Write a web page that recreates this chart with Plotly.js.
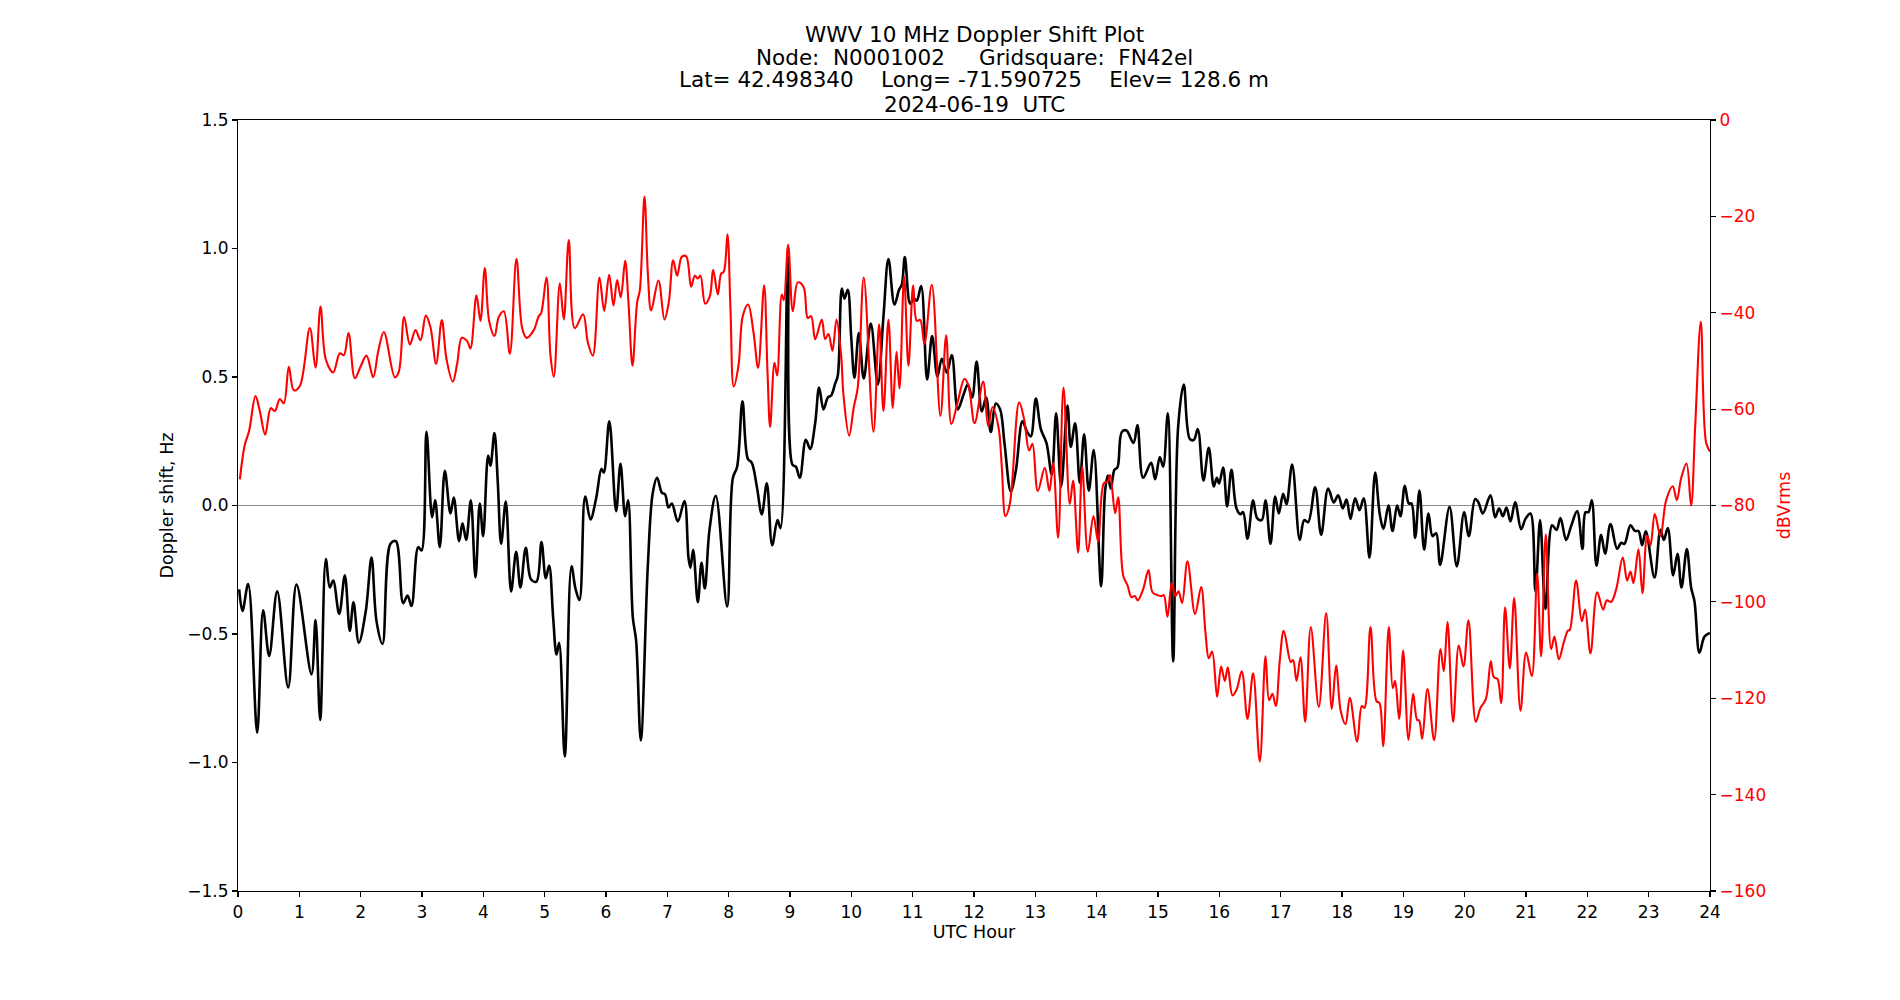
<!DOCTYPE html>
<html>
<head>
<meta charset="utf-8">
<script src="https://cdn.plot.ly/plotly-3.0.1.min.js"></script>
<style>
  html, body { margin: 0; padding: 0; background: #ffffff; }
  #chart { width: 1900px; height: 1000px; }
</style>
</head>
<body>
<div id="chart"></div>
<script>
// ---------- Chart text ----------
const titleLines = [
  "WWV 10 MHz Doppler Shift Plot",
  "Node:\u00A0\u00A0N0001002\u00A0\u00A0\u00A0\u00A0\u00A0Gridsquare:\u00A0\u00A0FN42el",
  "Lat=\u00A042.498340\u00A0\u00A0\u00A0\u00A0Long=\u00A0-71.590725\u00A0\u00A0\u00A0\u00A0Elev=\u00A0128.6\u00A0m",
  "2024-06-19\u00A0\u00A0UTC"
];
const xLabel = "UTC Hour";
const yLabel = "Doppler shift, Hz";
const y2Label = "dBVrms";

// ---------- Tick values ----------
const xTicks = [0,1,2,3,4,5,6,7,8,9,10,11,12,13,14,15,16,17,18,19,20,21,22,23,24];
const yTicks = [-1.5,-1.0,-0.5,0.0,0.5,1.0,1.5];
const y2Ticks = [-160,-140,-120,-100,-80,-60,-40,-20,0];

// ---------- Doppler shift (Hz) series ----------
const dopplerHour = [
0.019,0.073,0.166,0.3125,0.41,0.508,0.639,0.818,0.954,1.198,1.264,1.34,1.432,1.497,1.552,1.65,1.742,1.823,1.883,1.97,
2.084,2.177,2.258,2.356,2.486,2.573,2.693,2.764,2.829,2.938,2.992,3.073,3.165,3.214,3.29,3.372,3.464,3.518,3.605,3.66,
3.72,3.796,3.872,3.942,3.997,4.078,4.116,4.181,4.236,4.29,4.366,4.453,4.535,4.605,4.692,4.779,4.866,4.948,5.018,5.073,
5.138,5.193,5.236,5.328,5.437,5.502,5.567,5.66,5.747,5.839,5.926,5.964,6.054,6.165,6.236,6.312,6.361,6.437,6.491,6.567,
6.682,6.763,6.834,6.91,6.964,7.018,7.073,7.171,7.279,7.345,7.377,7.421,7.497,7.557,7.611,7.687,7.79,7.975,8.067,8.138,
8.225,8.312,8.377,8.459,8.54,8.622,8.709,8.796,8.845,8.967,9.04,9.095,9.16,9.258,9.328,9.41,9.475,9.546,9.616,9.671,
9.736,9.779,9.845,9.888,9.942,9.997,10.051,10.122,10.203,10.317,10.432,10.524,10.605,10.703,10.779,10.823,10.872,10.959,11.018,11.067,
11.138,11.236,11.317,11.404,11.475,11.556,11.638,11.736,11.828,11.899,11.97,12.043,12.127,12.198,12.274,12.355,12.426,12.497,12.6,12.682,
12.79,12.861,12.926,13.008,13.09,13.182,13.268,13.339,13.421,13.524,13.578,13.649,13.725,13.796,13.872,13.953,14.073,14.138,14.182,14.23,
14.29,14.339,14.41,14.486,14.6,14.665,14.757,14.888,14.953,15.03,15.084,15.16,15.247,15.328,15.42,15.518,15.584,15.649,15.741,15.828,
15.91,15.959,15.997,16.062,16.127,16.198,16.279,16.345,16.388,16.459,16.551,16.616,16.692,16.753,16.834,16.91,16.97,17.04,17.095,17.187,
17.312,17.383,17.448,17.562,17.66,17.774,17.866,17.937,18.013,18.073,18.138,18.214,18.285,18.355,18.448,18.54,18.616,18.676,18.758,18.823,
18.899,18.953,19.024,19.089,19.133,19.193,19.263,19.339,19.41,19.475,19.535,19.6,19.753,19.872,19.991,20.068,20.171,20.225,20.296,20.421,
20.497,20.562,20.622,20.682,20.747,20.823,20.921,20.991,21.073,21.154,21.23,21.317,21.426,21.497,21.562,21.654,21.736,21.834,21.921,21.97,
22.018,22.073,22.149,22.225,22.29,22.377,22.486,22.551,22.605,22.703,22.774,22.834,22.893,22.953,23.095,23.192,23.247,23.312,23.399,23.47,
23.535,23.622,23.692,23.747,23.828,23.909,23.997
];
const dopplerHz = [
-0.326,-0.41,-0.306,-0.884,-0.408,-0.585,-0.334,-0.708,-0.308,-0.657,-0.446,-0.834,-0.208,-0.319,-0.292,-0.422,-0.272,-0.488,-0.377,-0.534,
-0.41,-0.203,-0.45,-0.539,-0.149,-0.139,-0.38,-0.35,-0.391,-0.162,-0.175,0.287,-0.046,0.02,-0.162,0.135,-0.031,0.031,-0.139,-0.069,
-0.134,0.02,-0.28,0.008,-0.119,0.194,0.155,0.282,0.089,-0.149,0.015,-0.334,-0.18,-0.319,-0.165,-0.288,-0.296,-0.142,-0.283,-0.234,
-0.434,-0.58,-0.534,-0.976,-0.237,-0.323,-0.368,0.035,-0.054,0.028,0.143,0.128,0.328,-0.022,0.162,-0.042,0.02,-0.434,-0.526,-0.914,
-0.234,0.05,0.108,0.05,0.043,-0.008,0.008,-0.062,0.017,-0.203,-0.242,-0.172,-0.376,-0.223,-0.323,-0.095,0.038,-0.393,0.105,0.151,
0.405,0.182,0.166,0.074,-0.034,0.086,-0.154,-0.057,-0.088,0.967,0.159,0.151,0.108,0.256,0.22,0.32,0.459,0.374,0.42,0.428,
0.474,0.505,0.844,0.805,0.839,0.659,0.497,0.671,0.494,0.708,0.471,0.736,0.959,0.782,0.84,0.859,0.967,0.785,0.805,0.797,
0.854,0.49,0.659,0.502,0.571,0.517,0.585,0.374,0.431,0.471,0.42,0.56,0.366,0.42,0.286,0.397,0.374,0.243,0.055,0.135,
0.328,0.289,0.269,0.416,0.297,0.243,0.12,0.359,0.074,0.389,0.228,0.32,0.089,0.277,0.058,0.216,-0.314,0.058,0.117,0.066,
0.139,0.148,0.286,0.292,0.243,0.313,0.108,0.166,0.102,0.189,0.151,0.359,-0.607,0.305,0.471,0.259,0.255,0.297,0.097,0.225,
0.074,0.108,0.086,0.148,-0.003,0.139,-0.011,-0.034,-0.026,-0.129,0.02,-0.049,-0.057,0.02,-0.149,0.035,-0.031,0.046,0.005,0.159,
-0.134,-0.057,-0.065,0.071,-0.114,0.066,0.012,0.04,-0.011,0.023,-0.052,0.028,-0.018,0.028,-0.203,0.128,-0.034,-0.091,0.0,-0.099,
0.0,-0.042,0.077,0.008,0.008,-0.126,0.058,-0.172,-0.031,-0.119,-0.108,-0.231,-0.006,-0.237,-0.026,-0.119,0.025,0.012,-0.031,0.04,
-0.046,-0.011,-0.042,-0.008,-0.062,0.012,-0.092,-0.052,-0.031,-0.334,-0.057,-0.403,-0.077,-0.095,-0.049,-0.134,-0.08,-0.022,-0.169,-0.026,
-0.026,0.02,-0.234,-0.114,-0.188,-0.072,-0.169,-0.145,-0.149,-0.077,-0.099,-0.099,-0.154,-0.1,-0.28,-0.095,-0.134,-0.088,-0.272,-0.188,
-0.319,-0.169,-0.319,-0.373,-0.573,-0.511,-0.496
];

// ---------- Signal level (dBVrms) series ----------
const levelHour = [
0.03,0.111,0.182,0.285,0.356,0.443,0.535,0.601,0.682,0.747,0.829,0.91,1.008,1.171,1.264,1.345,1.432,1.552,1.66,1.726,
1.802,1.905,1.997,2.095,2.204,2.285,2.378,2.557,2.622,2.709,2.802,2.894,2.976,3.062,3.138,3.23,3.323,3.399,3.502,3.573,
3.649,3.736,3.79,3.888,3.953,4.024,4.095,4.182,4.252,4.334,4.432,4.54,4.633,4.703,4.823,4.904,4.942,5.03,5.095,5.149,
5.247,5.312,5.393,5.491,5.627,5.703,5.785,5.893,5.97,6.051,6.122,6.182,6.241,6.312,6.366,6.432,6.508,6.551,6.627,6.682,
6.736,6.855,6.953,7.024,7.095,7.16,7.236,7.307,7.388,7.448,7.497,7.54,7.616,7.692,7.747,7.823,7.877,7.92,7.98,8.029,
8.083,8.16,8.23,8.317,8.404,8.48,8.578,8.633,8.676,8.747,8.79,8.866,8.899,8.97,9.046,9.127,9.22,9.29,9.345,9.41,
9.518,9.573,9.627,9.692,9.758,9.834,9.872,9.964,10.04,10.105,10.203,10.361,10.453,10.524,10.605,10.676,10.736,10.785,10.861,10.931,
11.008,11.067,11.122,11.192,11.312,11.453,11.546,11.632,11.736,11.845,11.91,12.01,12.149,12.23,12.301,12.399,12.453,12.513,12.584,12.736,
12.817,12.899,12.953,13.04,13.154,13.23,13.29,13.372,13.459,13.562,13.616,13.698,13.764,13.856,13.948,14.024,14.117,14.182,14.22,14.301,
14.351,14.432,14.503,14.567,14.622,14.671,14.757,14.845,14.91,14.991,15.057,15.095,15.154,15.225,15.285,15.334,15.393,15.48,15.605,15.703,
15.774,15.828,15.883,15.964,16.029,16.089,16.138,16.214,16.279,16.366,16.459,16.551,16.66,16.753,16.812,16.866,16.921,16.986,17.051,17.165,
17.203,17.258,17.323,17.399,17.491,17.622,17.742,17.834,17.904,17.98,18.057,18.127,18.247,18.323,18.366,18.464,18.562,18.611,18.671,18.763,
18.828,18.866,18.932,18.997,19.084,19.16,19.225,19.258,19.307,19.394,19.502,19.605,19.66,19.72,19.812,19.904,19.98,20.062,20.182,20.258,
20.345,20.426,20.475,20.535,20.595,20.659,20.736,20.807,20.91,21.002,21.095,21.181,21.247,21.323,21.41,21.464,21.535,21.616,21.682,21.714,
21.817,21.91,21.964,22.051,22.16,22.258,22.317,22.388,22.47,22.578,22.649,22.703,22.752,22.834,22.899,22.975,23.029,23.1,23.192,23.285,
23.393,23.459,23.529,23.617,23.692,23.758,23.85,23.937,24.0
];
const levelDb = [
-74.6,-67.4,-64.5,-57.3,-60.4,-65.3,-59.8,-60.4,-57.9,-58.8,-51.2,-56.1,-55.2,-43.2,-51.4,-38.7,-49.7,-52.4,-48.4,-48.8,
-44.2,-53.6,-51.2,-48.9,-53.4,-48.1,-44.0,-53.4,-52.2,-40.9,-46.6,-43.6,-45.7,-40.6,-43.0,-50.6,-41.5,-49.6,-54.3,-50.6,
-45.2,-45.9,-47.4,-36.4,-41.7,-30.7,-41.7,-44.8,-40.9,-39.7,-48.5,-28.8,-43.2,-45.2,-43.6,-40.7,-40.1,-32.7,-48.9,-53.3,
-33.9,-41.4,-24.9,-43.2,-40.3,-46.1,-48.9,-32.7,-39.6,-32.1,-38.5,-33.2,-36.8,-29.2,-37.8,-51.0,-37.8,-35.4,-15.9,-31.7,
-39.5,-33.3,-41.4,-37.8,-29.1,-32.3,-28.4,-28.3,-34.6,-32.3,-32.9,-32.3,-38.1,-36.6,-31.1,-36.2,-31.9,-31.5,-23.7,-39.1,
-55.3,-51.0,-40.7,-38.3,-44.0,-51.4,-34.3,-52.2,-63.7,-50.4,-53.0,-36.2,-37.4,-25.9,-39.7,-33.7,-34.6,-41.1,-40.7,-45.5,
-41.4,-45.5,-44.4,-47.9,-41.4,-48.9,-57.1,-65.5,-59.6,-55.5,-32.7,-64.7,-42.4,-60.4,-41.4,-59.8,-48.1,-55.7,-32.5,-51.0,
-34.3,-41.7,-41.5,-46.5,-34.2,-61.4,-44.7,-63.1,-58.4,-53.7,-55.1,-62.9,-54.3,-63.5,-59.6,-63.7,-71.9,-82.2,-79.7,-58.6,
-62.1,-68.6,-67.2,-77.0,-72.2,-77.0,-71.1,-86.7,-55.5,-79.7,-74.8,-89.8,-71.9,-89.6,-82.2,-87.5,-75.4,-75.0,-73.7,-81.6,
-78.3,-94.5,-96.6,-99.0,-98.8,-99.7,-97.4,-93.4,-98.0,-98.6,-98.8,-98.6,-103.1,-96.1,-98.8,-97.8,-100.2,-91.6,-102.5,-96.9,
-106.4,-111.7,-110.3,-119.7,-113.4,-116.4,-113.6,-119.4,-118.3,-114.4,-124.3,-114.8,-133.1,-111.3,-120.4,-119.1,-121.6,-112.1,-106.0,-112.5,
-112.1,-116.4,-111.5,-124.9,-105.2,-121.8,-102.3,-122.2,-113.2,-122.7,-125.4,-119.9,-129.0,-121.6,-122.0,-105.2,-120.6,-121.0,-130.0,-105.2,
-117.9,-116.4,-124.3,-110.1,-128.6,-119.1,-124.5,-124.6,-128.4,-118.1,-128.7,-109.8,-114.4,-104.2,-124.9,-109.0,-113.4,-103.8,-124.9,-122.0,
-120.2,-112.3,-115.6,-116.0,-121.0,-101.1,-113.8,-99.2,-122.6,-110.5,-115.4,-94.1,-111.3,-86.0,-109.8,-107.2,-111.9,-108.4,-106.0,-105.8,
-95.6,-104.0,-101.6,-110.7,-98.0,-101.6,-99.7,-100.0,-97.4,-90.8,-95.6,-93.7,-96.1,-89.1,-98.2,-86.3,-88.3,-81.8,-86.3,-78.9,
-76.0,-78.9,-74.4,-71.3,-80.0,-63.7,-41.9,-67.0,-68.8
];

// ---------- Figure ----------
const FONT = "DejaVu Sans, Liberation Sans, Arial, sans-serif";
const traces = [
  {
    x: dopplerHour, y: dopplerHz, type: "scatter", mode: "lines",
    line: { color: "#000000", width: 2.6, shape: "spline", smoothing: 1.0 },
    xaxis: "x", yaxis: "y", hoverinfo: "x+y", showlegend: false
  },
  {
    x: levelHour, y: levelDb, type: "scatter", mode: "lines",
    line: { color: "#ff0000", width: 2.1, shape: "spline", smoothing: 1.0 },
    xaxis: "x", yaxis: "y2", hoverinfo: "x+y", showlegend: false
  }
];

// title lines as annotations (pixel-accurate line spacing)
const plotTop = 120, plotBottom = 891;
const lineY = [35, 57, 80, 104];
const annotations = titleLines.map((t, i) => ({
  text: t, xref: "paper", yref: "paper",
  x: 0.5, y: (plotBottom - lineY[i]) / (plotBottom - plotTop),
  xanchor: "center", yanchor: "middle", showarrow: false,
  font: { family: FONT, size: 21.5, color: "#000000" }
}));

const layout = {
  width: 1900, height: 1000,
  paper_bgcolor: "#ffffff", plot_bgcolor: "#ffffff",
  margin: { l: 238, r: 190, t: 120, b: 109, pad: 0 },
  font: { family: FONT, size: 17, color: "#000000" },
  showlegend: false,
  annotations: annotations,
  xaxis: {
    range: [0, 24], tickvals: xTicks, ticktext: xTicks.map(String),
    ticks: "outside", ticklen: 5, tickwidth: 1.1, tickcolor: "#000000",
    showline: true, linecolor: "#000000", linewidth: 1.1, mirror: true,
    showgrid: false, zeroline: false,
    tickfont: { family: FONT, size: 17, color: "#000000" },
    title: { text: xLabel, font: { family: FONT, size: 17.5, color: "#000000" }, standoff: 5 },
    automargin: false
  },
  yaxis: {
    range: [-1.5, 1.5], tickvals: yTicks, tickformat: ".1f",
    ticks: "outside", ticklen: 5, tickwidth: 1.1, tickcolor: "#000000",
    showline: true, linecolor: "#000000", linewidth: 1.1, mirror: false,
    showgrid: false,
    zeroline: true, zerolinecolor: "#8a8a8a", zerolinewidth: 1.2,
    tickfont: { family: FONT, size: 17, color: "#000000" },
    title: { text: yLabel, font: { family: FONT, size: 17.5, color: "#000000" }, standoff: 9 },
    automargin: false
  },
  yaxis2: {
    range: [-160, 0], tickvals: y2Ticks, tickformat: "d",
    overlaying: "y", side: "right",
    ticks: "outside", ticklen: 5, tickwidth: 1.1, tickcolor: "#000000",
    showline: true, linecolor: "#000000", linewidth: 1.1,
    showgrid: false, zeroline: false,
    tickfont: { family: FONT, size: 17, color: "#ff0000" },
    title: { text: y2Label, font: { family: FONT, size: 17.5, color: "#ff0000" }, standoff: 12 },
    automargin: false
  }
};

Plotly.newPlot("chart", traces, layout, { displayModeBar: false, staticPlot: true });
</script>
</body>
</html>
